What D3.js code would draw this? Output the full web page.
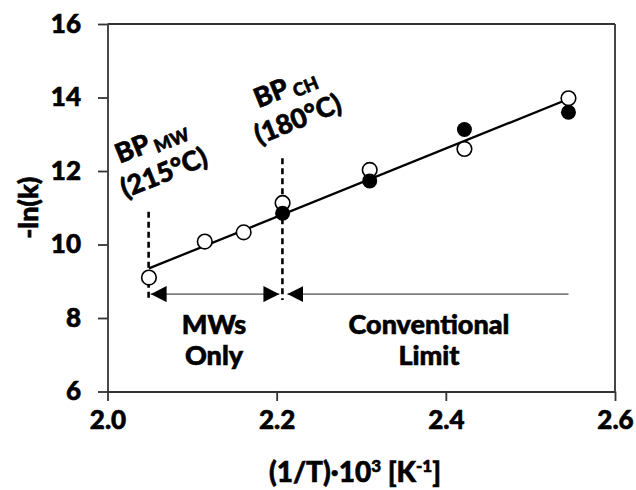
<!DOCTYPE html>
<html>
<head>
<meta charset="utf-8">
<script src="https://cdnjs.cloudflare.com/ajax/libs/d3/7.8.5/d3.min.js"></script>
<style>
  body { margin: 0; background: #fff; }
  svg text { font-family: Lato, "Open Sans", sans-serif; font-weight: 900; fill: #000;
             stroke: #000; stroke-width: 0.6px; }
</style>
</head>
<body>
<svg id="chart" width="636" height="490"></svg>
<script>
'use strict'

// data
var xTicks = [2.0, 2.2, 2.4, 2.6];
var yTicks = [6, 8, 10, 12, 14, 16];

// open circles
var openX = [2.049, 2.115, 2.161, 2.207, 2.310, 2.422, 2.545];
var openY = [9.10, 10.08, 10.33, 11.13, 12.03, 12.60, 13.98];

// filled circles
var filledX = [2.207, 2.310, 2.422, 2.545];
var filledY = [10.85, 11.73, 13.13, 13.60];

// linear fit
var fitX = [2.049, 2.545];
var fitY = [9.35, 13.96];

// boiling points (1/T for 215 C and 180 C)
var bpNames = ["MW", "CH"];
var bpTemps = ["(215°C)", "(180°C)"];
var bpX = [2.0486, 2.2068];
var bpTop = [10.89, 12.35];
var bpBottom = 8.49;

// arrow levels
var arrowY = 8.65;
var arrowEnd = 2.545;

var svg = d3.select("#chart");

var x = d3.scaleLinear().domain([2.0, 2.6]).range([107.5, 615]);
var y = d3.scaleLinear().domain([6, 16]).range([391.5, 24]);

// axes
var yAxis = svg.append("g")
    .attr("transform", "translate(" + x(2.0) + ",0)")
    .call(d3.axisLeft(y).tickValues(yTicks).tickSize(9.5).tickSizeOuter(0).tickPadding(17)
        .tickFormat(d3.format("d")));

var xAxis = svg.append("g")
    .attr("transform", "translate(0," + y(6) + ")")
    .call(d3.axisBottom(x).tickValues(xTicks).tickSize(9.5).tickSizeOuter(0).tickPadding(10)
        .tickFormat(d3.format(".1f")));

[xAxis, yAxis].forEach(function(g){
    g.attr("font-size", null).attr("font-family", null);
    g.selectAll("text").style("font-size", "26px");
    g.selectAll("line, path").attr("stroke", "#333").attr("stroke-width", 1.8);
});

// frame top + right
svg.append("line")
    .attr("x1", x(2.0)).attr("x2", x(2.6)).attr("y1", y(16)).attr("y2", y(16))
    .attr("stroke", "#333").attr("stroke-width", 1.8);
svg.append("line")
    .attr("x1", x(2.6)).attr("x2", x(2.6)).attr("y1", y(16)).attr("y2", y(6))
    .attr("stroke", "#333").attr("stroke-width", 1.8);

// axis titles
svg.append("text")
    .attr("transform", "translate(27," + y(11) + ") rotate(-90)")
    .attr("text-anchor", "middle").attr("dominant-baseline", "central")
    .style("font-size", "27px")
    .text("-ln(k)");

var xt = svg.append("text")
    .attr("x", 355).attr("y", 482)
    .attr("text-anchor", "middle")
    .style("font-size", "28px");
xt.append("tspan").text("(1/T)·10");
xt.append("tspan").attr("dy", -10).style("font-size", "17px").text("3");
xt.append("tspan").attr("dy", 10).text(" [K");
xt.append("tspan").attr("dy", -10).style("font-size", "17px").text("-1");
xt.append("tspan").attr("dy", 10).text("]");

// dashed boiling point lines
svg.selectAll(".bp")
    .data(bpX)
    .enter().append("line")
    .attr("class", "bp")
    .attr("x1", function(d){return x(d)}).attr("x2", function(d){return x(d)})
    .attr("y1", function(d,i){return y(bpTop[i])}).attr("y2", y(bpBottom))
    .attr("stroke", "#000").attr("stroke-width", 2.6)
    .attr("stroke-dasharray", "6,4");

// range arrows
var defs = svg.append("defs");
defs.append("marker")
    .attr("id", "tri").attr("viewBox", "0 0 16 16")
    .attr("refX", 16).attr("refY", 8)
    .attr("markerWidth", 16).attr("markerHeight", 16)
    .attr("markerUnits", "userSpaceOnUse")
    .attr("orient", "auto-start-reverse")
    .append("path").attr("d", "M0,0 L16,8 L0,16 Z").attr("fill", "#000");

// MWs only: arrows both ends
svg.append("line")
    .attr("x1", x(bpX[0]) + 2).attr("x2", x(bpX[1]) - 3)
    .attr("y1", y(arrowY)).attr("y2", y(arrowY))
    .attr("stroke", "#7f7f7f").attr("stroke-width", 1.6)
    .attr("marker-start", "url(#tri)").attr("marker-end", "url(#tri)");

// conventional: arrow at left end
svg.append("line")
    .attr("x1", x(bpX[1]) + 5).attr("x2", x(arrowEnd))
    .attr("y1", y(arrowY)).attr("y2", y(arrowY))
    .attr("stroke", "#7f7f7f").attr("stroke-width", 1.6)
    .attr("marker-start", "url(#tri)");

// region labels
function twoLines(cx, l1, l2){
    svg.append("text").attr("x", cx).attr("y", 334)
        .attr("text-anchor", "middle").style("font-size", "27px").text(l1);
    svg.append("text").attr("x", cx).attr("y", 365)
        .attr("text-anchor", "middle").style("font-size", "27px").text(l2);
}
twoLines(214, "MWs", "Only");
twoLines(429, "Conventional", "Limit");

// BP labels (rotated)
bpX.forEach(function(d, i){
    var g = svg.append("g")
        .attr("transform", "translate(" + (x(d) + 6) + "," + (y(bpTop[i]) - 62) + ") rotate(-22)");
    var t1 = g.append("text").attr("text-anchor", "middle").style("font-size", "27px");
    t1.append("tspan").text("BP");
    t1.append("tspan").attr("dx", 4).attr("dy", 4).style("font-size", "18px").text(bpNames[i]);
    g.append("text").attr("y", 34).attr("text-anchor", "middle")
        .style("font-size", "27px").text(bpTemps[i]);
});

// fit line
svg.append("line")
    .attr("x1", x(fitX[0])).attr("x2", x(fitX[1]))
    .attr("y1", y(fitY[0])).attr("y2", y(fitY[1]))
    .attr("stroke", "#000").attr("stroke-width", 2.3);

// points
svg.selectAll(".open")
    .data(openX)
    .enter().append("circle")
    .attr("class", "open")
    .attr("cx", function(d){return x(d)})
    .attr("cy", function(d,i){return y(openY[i])})
    .attr("r", 7.3)
    .attr("fill", "#fff").attr("stroke", "#000").attr("stroke-width", 1.6);

svg.selectAll(".filled")
    .data(filledX)
    .enter().append("circle")
    .attr("class", "filled")
    .attr("cx", function(d){return x(d)})
    .attr("cy", function(d,i){return y(filledY[i])})
    .attr("r", 7.5)
    .attr("fill", "#000");
</script>
</body>
</html>
